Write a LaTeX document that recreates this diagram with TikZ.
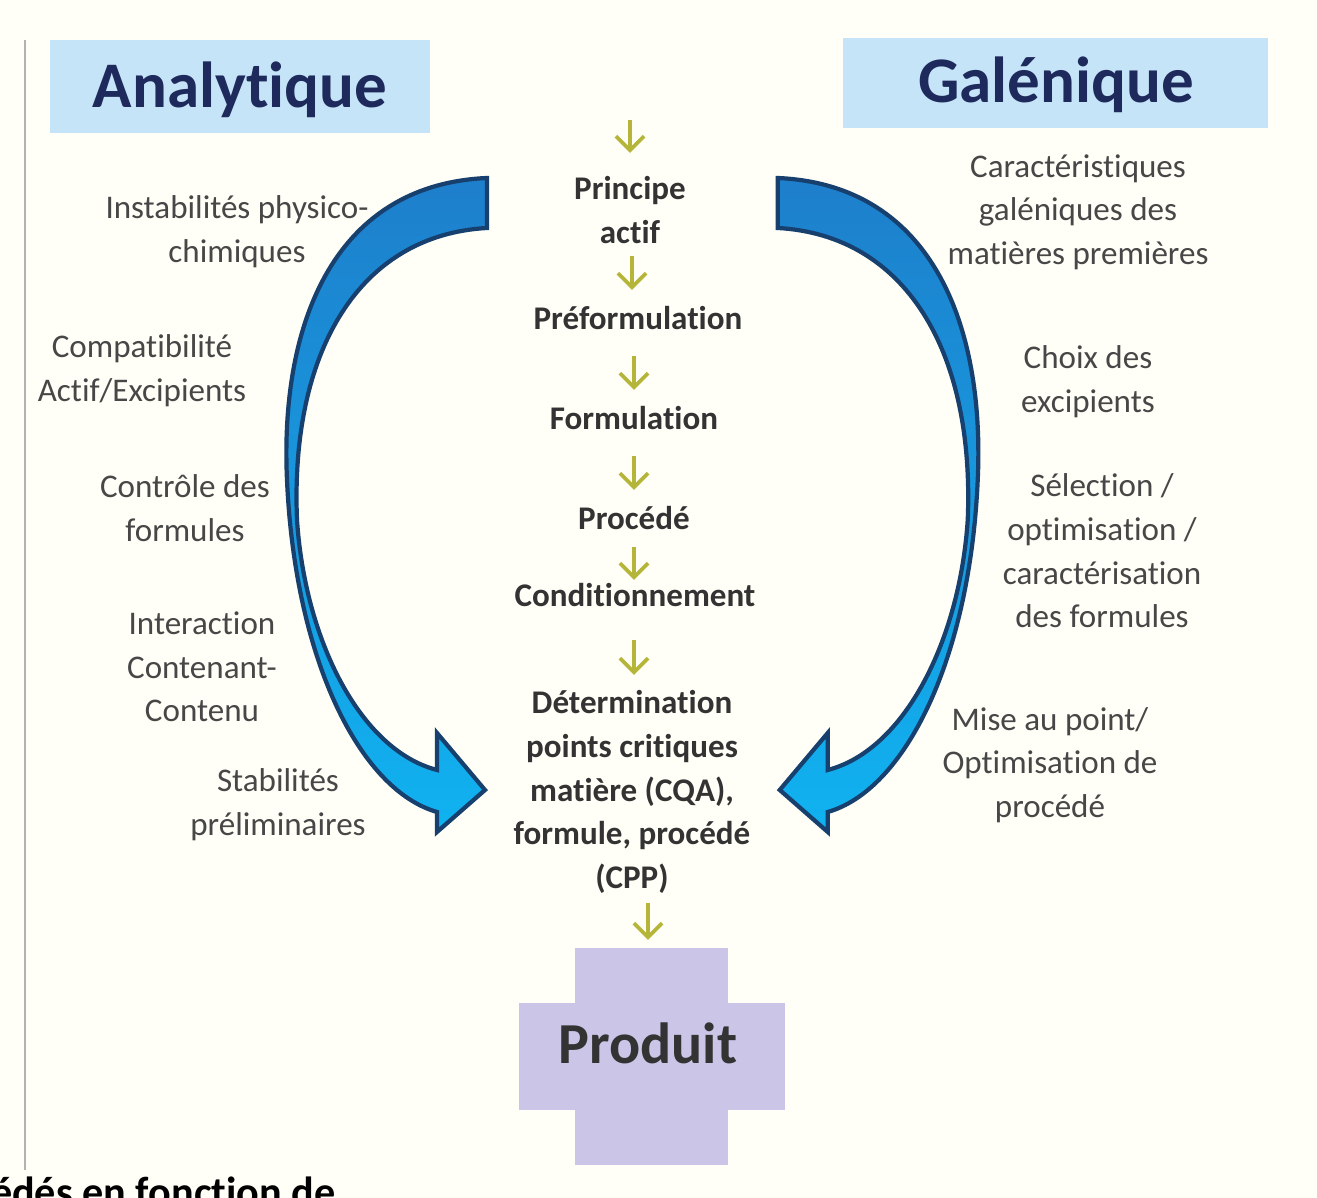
\documentclass[tikz,border=0pt]{standalone}
\usepackage{fontspec}
\setmainfont{Carlito}[RawFeature=-liga]
\usetikzlibrary{arrows.meta}
\definecolor{navy}{HTML}{1F2A5C}
\definecolor{boxblue}{HTML}{C6E4F8}
\definecolor{lav}{HTML}{CBC5E8}
\definecolor{olive}{HTML}{B5B53A}
\definecolor{txt}{HTML}{474747}
\definecolor{ctxt}{HTML}{333333}
\definecolor{arrline}{HTML}{17406E}
\definecolor{atop}{HTML}{1E7FCC}
\definecolor{abot}{HTML}{10B2F0}
\tikzset{
  side/.style={align=center,font=\fontsize{9.4}{12.4}\selectfont,text=txt},
  stage/.style={align=center,font=\bfseries\fontsize{9.4}{12.4}\selectfont,text=ctxt},
  title/.style={font=\bfseries\fontsize{18.5}{20}\selectfont,text=navy},
  small/.style={olive,line width=1.1pt,-{Straight Barb[length=4pt,width=8pt]}},
  big/.style={draw=arrline,line width=1.2pt,top color=atop,bottom color=abot},
}
\begin{document}
\begin{tikzpicture}[x=0.01cm,y=-0.01cm]
\useasboundingbox[fill=white!97!yellow] (0,0) rectangle (1317,1198);
\draw[gray!60,line width=0.6pt] (25,40) -- (25,1170);
% title boxes
\fill[boxblue] (50,40) rectangle (430,133);
\node[title] (ana) at (240,90) {Analytique};
\fill[boxblue] (843,38) rectangle (1268,128);
\node[title] (gal) at (1056,85) {Galénique};
% big curved arrows
\path[big] (487,178) .. controls (330,185) and (280,330) .. (287,480)
  .. controls (295,660) and (360,790) .. (437,812) -- (437,832) -- (485,790) -- (437,733) -- (437,770)
  .. controls (360,750) and (305,640) .. (297,520)
  .. controls (290,350) and (360,235) .. (487,228) -- cycle;
\begin{scope}[xshift=12.64cm,xscale=-1]
\path[big] (487,178) .. controls (330,185) and (280,330) .. (287,480)
  .. controls (295,660) and (360,790) .. (437,812) -- (437,832) -- (485,790) -- (437,733) -- (437,770)
  .. controls (360,750) and (305,640) .. (297,520)
  .. controls (290,350) and (360,235) .. (487,228) -- cycle;
\end{scope}
% produit cross
\fill[lav] (575,948) rectangle (728,1165);
\fill[lav] (519,1003) rectangle (785,1110);
\node[font=\bfseries\fontsize{16.5}{18}\selectfont,text=ctxt] (prod) at (648,1043) {Produit};
% left texts
\node[side] (l1) at (237,232) {Instabilités physico-\\chimiques};
\node[side] (l2) at (142,371) {Compatibilité\\Actif/Excipients};
\node[side] (l3) at (185,508) {Contrôle des\\formules};
\node[side] (l4) at (202,667) {Interaction\\Contenant-\\Contenu};
\node[side] (l5) at (278,805) {Stabilités\\préliminaires};
% right texts
\node[side] (r1) at (1078,212) {Caractéristiques\\galéniques des\\matières premières};
\node[side] (r2) at (1088,382) {Choix des\\excipients};
\node[side] (r3) at (1102,551) {Sélection /\\optimisation /\\caractérisation\\des formules};
\node[side] (r4) at (1050,765) {Mise au point/\\Optimisation de\\procédé};
% center stages
\node[stage] (s1) at (630,210) {Principe\\actif};
\node[stage] (s2) at (638,318) {Préformulation};
\node[stage] (s3) at (634,418) {Formulation};
\node[stage] (s4) at (634,518) {Procédé};
\node[stage] (s5) at (635,595) {Conditionnement};
\node[stage] (s6) at (632,792) {Détermination\\points critiques\\matière (CQA),\\formule, procédé\\(CPP)};
% small arrows
\coordinate (a0) at (630,120); \coordinate (b0) at (630,153);
\coordinate (a1) at (632,256); \coordinate (b1) at (632,290);
\coordinate (a2) at (634,356); \coordinate (b2) at (634,390);
\coordinate (a3) at (634,456); \coordinate (b3) at (634,490);
\coordinate (a4) at (634,547); \coordinate (b4) at (634,580);
\coordinate (a5) at (634,640); \coordinate (b5) at (634,675);
\coordinate (a6) at (648,903); \coordinate (b6) at (648,940);
\foreach \i in {0,...,6} \draw[small] (a\i) -- (b\i);
% cut-off bottom text
\node[anchor=north west,inner sep=0,font=\bfseries\fontsize{12}{13}\selectfont,text=black] (bt) at (-50,1176) {océdés en fonction de};
\end{tikzpicture}
\end{document}
